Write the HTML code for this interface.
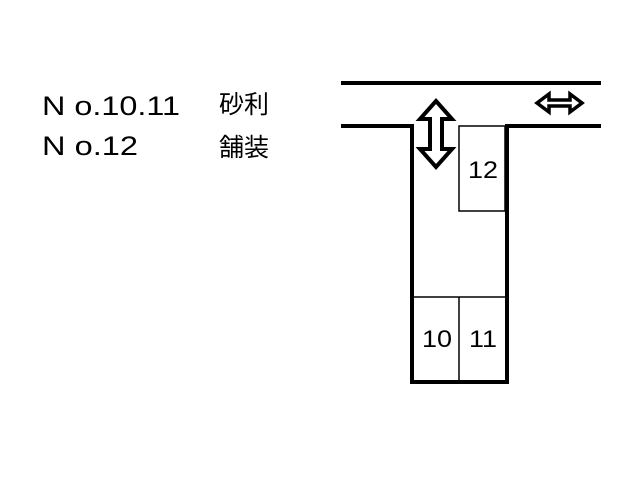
<!DOCTYPE html>
<html><head><meta charset="utf-8"><style>
html,body{margin:0;padding:0;background:#fff;width:640px;height:480px;overflow:hidden}
</style></head><body>
<svg width="640" height="480" viewBox="0 0 640 480" xmlns="http://www.w3.org/2000/svg">
<g font-family="Liberation Sans, Noto Sans CJK JP, sans-serif" fill="#000">
<text x="42" y="115" font-size="27" textLength="138" lengthAdjust="spacingAndGlyphs">N o.10.11</text>
<text x="219" y="113" font-size="25">砂利</text>
<text x="42" y="155" font-size="27" textLength="96" lengthAdjust="spacingAndGlyphs">N o.12</text>
<text x="219" y="156" font-size="25">舗装</text>
</g>
<g stroke="#000" stroke-width="4" fill="none">
<line x1="341" y1="83" x2="601" y2="83"/>
<polyline points="341,126 412,126 412,382 507,382 507,126 601,126"/>
</g>
<g stroke="#000" stroke-width="1.5" fill="none">
<rect x="459" y="126" width="46" height="85"/>
<line x1="412" y1="297" x2="507" y2="297"/>
<line x1="459" y1="297" x2="459" y2="382"/>
</g>
<g font-family="Liberation Sans, sans-serif" font-size="24" fill="#000">
<text x="468" y="178" textLength="30" lengthAdjust="spacingAndGlyphs">12</text>
<text x="422" y="347" textLength="30" lengthAdjust="spacingAndGlyphs">10</text>
<text x="469" y="347" textLength="28" lengthAdjust="spacingAndGlyphs">11</text>
</g>
<path d="M436,101 L452,119 L442,119 L442,149 L452,149 L436,167 L420,149 L430,149 L430,119 L420,119 Z" fill="#fff" stroke="#000" stroke-width="4" stroke-linejoin="miter"/>
<path d="M537,103 L549,94 L549,100 L570,100 L570,94 L582,103 L570,112 L570,106 L549,106 L549,112 Z" fill="#fff" stroke="#000" stroke-width="3.5"/>
</svg>
</body></html>
